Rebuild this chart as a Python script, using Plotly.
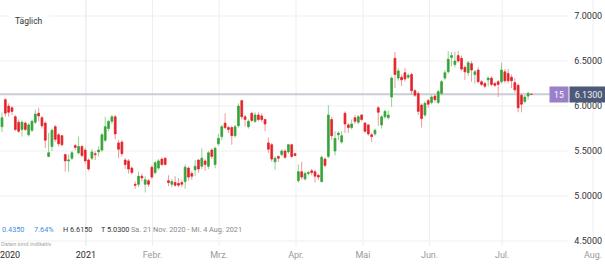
import plotly.graph_objects as go

# ---------------- data ----------------
opens = [5.77, 6.07, 6.00, 5.98, 5.88, 5.82, 5.74, 5.81, 5.68, 5.73,
         5.82, 5.92, 5.87, 5.81, 5.44, 5.55, 5.77, 5.68, 5.67, 5.46,
         5.39, 5.42, 5.56, 5.48, 5.55, 5.51, 5.40, 5.42, 5.47, 5.49,
         5.51, 5.62, 5.75, 5.83, 5.88, 5.59, 5.60, 5.40, 5.39, 5.31,
         5.13, 5.13, 5.22, 5.13, 5.17, 5.32, 5.26, 5.31, 5.41, 5.42,
         5.17, 5.13, 5.15, 5.14, 5.15, 5.16, 5.31, 5.25, 5.29, 5.40,
         5.33, 5.39, 5.33, 5.51, 5.35, 5.58, 5.66, 5.81, 5.76, 5.76,
         5.67, 5.78, 6.06, 5.88, 5.77, 5.92, 5.83, 5.90, 5.89, 5.85,
         5.59, 5.57, 5.38, 5.44, 5.46, 5.50, 5.49, 5.57, 5.47, 5.17,
         5.27, 5.19, 5.25, 5.28, 5.27, 5.23, 5.16, 5.41, 5.44, 5.85,
         5.50, 5.68, 5.60, 5.92, 5.79, 5.76, 5.87, 5.82, 5.90, 5.81,
         5.79, 5.68, 5.69, 5.98, 5.79, 5.88, 5.87, 6.10, 6.53, 6.31,
         6.32, 6.37, 6.32, 6.35, 6.17, 6.14, 6.01, 5.90, 6.06, 6.04,
         6.11, 6.04, 6.14, 6.31, 6.38, 6.54, 6.46, 6.56, 6.53, 6.43,
         6.37, 6.47, 6.35, 6.40, 6.27, 6.25, 6.29, 6.31, 6.25, 6.27,
         6.27, 6.38, 6.36, 6.32, 6.26, 6.23, 6.12, 6.05, 6.11, 6.13]
highs = [5.93, 6.09, 6.03, 6.00, 5.90, 5.85, 5.84, 5.83, 5.81, 5.85,
         5.96, 5.98, 5.89, 5.83, 5.70, 5.75, 5.79, 5.70, 5.68, 5.47,
         5.46, 5.50, 5.58, 5.66, 5.57, 5.53, 5.42, 5.52, 5.50, 5.55,
         5.70, 5.88, 5.84, 5.90, 5.90, 5.62, 5.62, 5.42, 5.41, 5.33,
         5.16, 5.27, 5.25, 5.22, 5.19, 5.34, 5.39, 5.41, 5.43, 5.43,
         5.23, 5.19, 5.22, 5.20, 5.18, 5.35, 5.33, 5.28, 5.40, 5.41,
         5.53, 5.41, 5.50, 5.53, 5.55, 5.69, 5.79, 5.92, 5.78, 5.78,
         5.79, 6.03, 6.07, 5.90, 5.85, 5.93, 5.93, 5.93, 5.92, 5.86,
         5.65, 5.59, 5.44, 5.45, 5.52, 5.52, 5.58, 5.58, 5.48, 5.35,
         5.38, 5.27, 5.28, 5.30, 5.29, 5.25, 5.45, 5.43, 6.01, 5.88,
         5.72, 5.72, 5.72, 5.94, 5.81, 5.85, 5.90, 5.90, 5.91, 5.82,
         5.80, 5.70, 5.75, 6.00, 5.90, 5.96, 5.95, 6.33, 6.60, 6.42,
         6.35, 6.42, 6.36, 6.37, 6.19, 6.16, 6.03, 6.05, 6.08, 6.12,
         6.13, 6.18, 6.29, 6.40, 6.61, 6.60, 6.60, 6.61, 6.56, 6.45,
         6.50, 6.50, 6.40, 6.43, 6.29, 6.27, 6.33, 6.33, 6.27, 6.29,
         6.48, 6.41, 6.41, 6.35, 6.31, 6.25, 6.14, 6.12, 6.16, 6.13]
lows = [5.71, 5.88, 5.88, 5.90, 5.72, 5.70, 5.66, 5.72, 5.66, 5.71,
        5.80, 5.83, 5.75, 5.53, 5.43, 5.50, 5.60, 5.55, 5.55, 5.27,
        5.27, 5.40, 5.51, 5.46, 5.43, 5.36, 5.28, 5.40, 5.40, 5.44,
        5.49, 5.60, 5.72, 5.80, 5.63, 5.42, 5.44, 5.30, 5.25, 5.24,
        5.08, 5.10, 5.16, 5.04, 5.10, 5.19, 5.24, 5.29, 5.33, 5.34,
        5.11, 5.10, 5.10, 5.10, 5.10, 5.08, 5.17, 5.18, 5.22, 5.26,
        5.30, 5.28, 5.30, 5.41, 5.31, 5.56, 5.62, 5.74, 5.70, 5.57,
        5.65, 5.76, 5.85, 5.77, 5.75, 5.82, 5.81, 5.83, 5.82, 5.72,
        5.48, 5.38, 5.29, 5.38, 5.44, 5.41, 5.47, 5.42, 5.44, 5.15,
        5.18, 5.17, 5.23, 5.23, 5.15, 5.18, 5.15, 5.32, 5.42, 5.62,
        5.45, 5.62, 5.58, 5.70, 5.70, 5.74, 5.80, 5.80, 5.83, 5.70,
        5.67, 5.60, 5.67, 5.78, 5.75, 5.86, 5.85, 5.99, 6.20, 6.28,
        6.22, 6.27, 6.30, 6.13, 6.10, 5.90, 5.76, 5.88, 5.98, 6.02,
        6.04, 6.02, 6.12, 6.29, 6.36, 6.44, 6.43, 6.48, 6.39, 6.29,
        6.33, 6.27, 6.25, 6.25, 6.22, 6.20, 6.22, 6.22, 6.21, 6.10,
        6.25, 6.26, 6.25, 6.20, 6.15, 5.93, 5.93, 6.03, 6.07, 6.13]
closes = [5.87, 5.92, 5.93, 5.94, 5.74, 5.72, 5.82, 5.74, 5.79, 5.83,
          5.91, 5.89, 5.78, 5.62, 5.48, 5.73, 5.63, 5.58, 5.57, 5.39,
          5.40, 5.48, 5.54, 5.55, 5.45, 5.39, 5.30, 5.49, 5.46, 5.51,
          5.68, 5.77, 5.83, 5.88, 5.69, 5.52, 5.47, 5.35, 5.30, 5.26,
          5.12, 5.22, 5.20, 5.18, 5.13, 5.21, 5.37, 5.39, 5.35, 5.35,
          5.15, 5.16, 5.12, 5.12, 5.13, 5.32, 5.21, 5.22, 5.33, 5.30,
          5.42, 5.35, 5.48, 5.44, 5.53, 5.64, 5.77, 5.76, 5.74, 5.67,
          5.77, 6.00, 5.88, 5.85, 5.83, 5.84, 5.90, 5.85, 5.85, 5.80,
          5.52, 5.41, 5.42, 5.42, 5.50, 5.43, 5.57, 5.44, 5.45, 5.27,
          5.21, 5.25, 5.26, 5.26, 5.22, 5.21, 5.43, 5.34, 5.90, 5.67,
          5.64, 5.70, 5.67, 5.80, 5.76, 5.80, 5.83, 5.88, 5.85, 5.72,
          5.69, 5.66, 5.73, 5.93, 5.88, 5.94, 5.90, 6.31, 6.35, 6.39,
          6.29, 6.30, 6.34, 6.17, 6.12, 5.94, 5.86, 6.03, 6.02, 6.10,
          6.07, 6.16, 6.27, 6.37, 6.52, 6.56, 6.50, 6.50, 6.41, 6.38,
          6.48, 6.40, 6.38, 6.27, 6.24, 6.22, 6.31, 6.24, 6.23, 6.24,
          6.40, 6.28, 6.28, 6.28, 6.18, 5.98, 6.02, 6.10, 6.14, 6.13]
session = list(range(len(closes)))

# month starts, in trading-session units
tick_pos = [2.4, 25.2, 45.2, 65.2, 88.3, 108.4, 128.4, 150.2, 177.5]
tick_labels = ["2020", "2021", "Febr.", "Mrz.", "Apr.", "Mai", "Jun.", "Jul.", "Aug."]
year_labels = {"2020", "2021"}

y_ticks = [4.5, 5.0, 5.5, 6.0, 6.5, 7.0]
y_labels = ["4.5000", "5.0000", "5.5000", "6.0000", "6.5000", "7.0000"]

last_price = 6.13
last_price_text = "6.1300"
badge_text = "15"
change_abs = "0.4350"
change_pct = "7.64%"
high_text = "H 6.6150"
low_text = "T 5.0300"
period_text = "Sa. 21 Nov. 2020 - Mi. 4 Aug. 2021"
note_text = "Daten sind indikativ"
interval_text = "Täglich"

# ---------------- figure ----------------
W, H = 605, 264
MB = 18
PH = H - MB
FONT = "Roboto"

GREEN = "#38a23a"
RED = "#e3222a"
GREEN_W = "#93d193"
RED_W = "#f29a9c"

body_hi = [max(o, c) for o, c in zip(opens, closes)]
body_lo = [min(o, c) for o, c in zip(opens, closes)]

fig = go.Figure()
fig.add_trace(go.Candlestick(
    x=session, open=opens, high=highs, low=lows, close=closes,
    increasing=dict(line=dict(color=GREEN_W, width=1), fillcolor=GREEN_W),
    decreasing=dict(line=dict(color=RED_W, width=1), fillcolor=RED_W),
    whiskerwidth=0, hoverinfo="skip", showlegend=False))
fig.add_trace(go.Candlestick(
    x=session, open=opens, high=body_hi, low=body_lo, close=closes,
    increasing=dict(line=dict(color=GREEN, width=0.5), fillcolor=GREEN),
    decreasing=dict(line=dict(color=RED, width=0.5), fillcolor=RED),
    whiskerwidth=0, hoverinfo="skip", showlegend=False))

shapes = []
for yv in y_ticks:
    shapes.append(dict(type="line", xref="paper", yref="y", x0=0, x1=568 / W,
                       y0=yv, y1=yv, line=dict(color="#efefef", width=1), layer="below"))
for pos, lab in zip(tick_pos, tick_labels):
    if lab == "2020":
        continue
    col = "#e2e4e9" if lab in year_labels else "#eeeeee"
    shapes.append(dict(type="line", xref="x", yref="paper", x0=pos, x1=pos,
                       y0=0, y1=1, line=dict(color=col, width=1), layer="below"))
shapes.append(dict(type="line", xref="paper", yref="y", x0=0, x1=550 / W,
                   y0=last_price, y1=last_price, line=dict(color="#c8ccd3", width=2),
                   layer="below"))

ticktext = []
for lab in tick_labels:
    if lab in year_labels:
        ticktext.append(f"<span style='color:#2b2b2b'>{lab}</span>")
    else:
        ticktext.append(lab)

def ya(py):
    return 1 - py / PH

annotations = [
    dict(text=interval_text, xref="paper", yref="paper", x=9 / W, y=ya(21),
         xanchor="left", yanchor="middle", showarrow=False, bgcolor="white",
         borderpad=6, borderwidth=0, font=dict(family=FONT, size=8.5, color="#333")),
    dict(text=badge_text, xref="paper", yref="y", x=558.5 / W, y=last_price,
         xanchor="center", yanchor="middle", showarrow=False, bgcolor="#9a80c9",
         borderpad=2.5, width=13, font=dict(family=FONT, size=8.5, color="white")),
    dict(text=last_price_text, xref="paper", yref="y", x=588 / W, y=last_price,
         xanchor="center", yanchor="middle", showarrow=False, bgcolor="#4c5a77",
         borderpad=2.5, width=32, font=dict(family=FONT, size=9, color="#eef1f6")),
    dict(text=change_abs, xref="paper", yref="paper", x=0.5 / W, y=ya(229),
         xanchor="left", yanchor="middle", showarrow=False, borderpad=0,
         font=dict(family=FONT, size=7.3, color="#3f8fdc")),
    dict(text=change_pct, xref="paper", yref="paper", x=33 / W, y=ya(229),
         xanchor="left", yanchor="middle", showarrow=False, borderpad=0,
         font=dict(family=FONT, size=7.3, color="#3f8fdc")),
    dict(text=high_text, xref="paper", yref="paper", x=62 / W, y=ya(229),
         xanchor="left", yanchor="middle", showarrow=False, borderpad=0,
         font=dict(family=FONT, size=7.3, color="#333")),
    dict(text=low_text, xref="paper", yref="paper", x=100 / W, y=ya(229),
         xanchor="left", yanchor="middle", showarrow=False, borderpad=0,
         font=dict(family=FONT, size=7.3, color="#333")),
    dict(text=period_text, xref="paper", yref="paper", x=130 / W, y=ya(229),
         xanchor="left", yanchor="middle", showarrow=False, borderpad=0,
         font=dict(family=FONT, size=7.3, color="#8a8a8a")),
    dict(text=note_text, xref="paper", yref="paper", x=0, y=ya(244),
         xanchor="left", yanchor="middle", showarrow=False, borderpad=0,
         font=dict(family=FONT, size=5.8, color="#a8a8a8")),
]

fig.update_layout(
    width=W, height=H,
    margin=dict(l=0, r=0, t=0, b=MB),
    paper_bgcolor="white", plot_bgcolor="white",
    showlegend=False, boxgap=0.25,
    shapes=shapes, annotations=annotations,
    xaxis=dict(range=[-0.6, 181.08], tickmode="array", tickvals=tick_pos,
               ticktext=ticktext, showgrid=False, zeroline=False, showline=False,
               ticks="", rangeslider=dict(visible=False), ticklabeloverflow="allow",
               ticklabelstandoff=2,
               tickfont=dict(family=FONT, size=9, color="#9a9a9a")),
    yaxis=dict(range=[4.4444, 7.1778], side="right", ticklabelposition="inside",
               tickmode="array", tickvals=y_ticks, ticktext=y_labels,
               showgrid=False, zeroline=False, showline=False, ticks="",
               ticklabeloverflow="allow",
               tickfont=dict(family=FONT, size=9, color="#333")),
)

fig.write_html("out.html")
